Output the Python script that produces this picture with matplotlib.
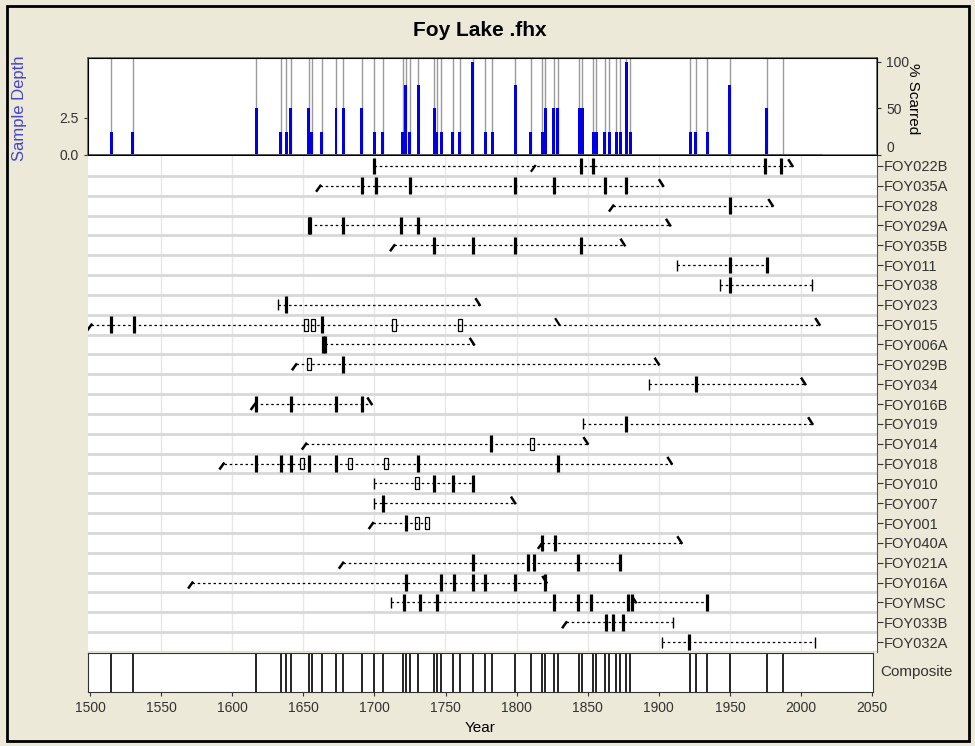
import matplotlib
matplotlib.use('Agg')
import matplotlib.pyplot as plt
from matplotlib.patches import Rectangle

plt.rcParams['font.family'] = ['Liberation Sans', 'DejaVu Sans']

# composite fire years and % of samples scarred
fire_years = [1515, 1530, 1617, 1634, 1638, 1641, 1654, 1656, 1663, 1673, 1678, 1691,
              1700, 1706, 1720, 1722, 1725, 1731, 1742, 1744, 1747, 1755, 1760, 1769,
              1778, 1783, 1799, 1810, 1818, 1820, 1826, 1829, 1844, 1846, 1854, 1856,
              1862, 1865, 1870, 1873, 1877, 1880, 1922, 1926, 1934, 1950, 1976, 1987]
pct_scarred = [25, 25, 50, 25, 25, 50, 50, 25, 25, 50, 50, 50,
               25, 25, 25, 75, 25, 75, 50, 25, 25, 25, 25, 100,
               25, 25, 75, 25, 25, 50, 50, 50, 50, 50, 25, 25,
               25, 25, 25, 25, 100, 25, 25, 25, 25, 75, 50, 0]

# tree-ring series
series = ['FOY022B', 'FOY035A', 'FOY028', 'FOY029A', 'FOY035B', 'FOY011', 'FOY038',
          'FOY023', 'FOY015', 'FOY006A', 'FOY029B', 'FOY034', 'FOY016B', 'FOY019',
          'FOY014', 'FOY018', 'FOY010', 'FOY007', 'FOY001', 'FOY040A', 'FOY021A',
          'FOY016A', 'FOYMSC', 'FOY033B', 'FOY032A']
first_year = [1700, 1662, 1868, 1654, 1714, 1913, 1943, 1632, 1501, 1665, 1645, 1893, 1616,
              1847, 1652, 1594, 1700, 1700, 1699, 1818, 1678, 1572, 1712, 1835, 1902]
last_year = [1994, 1903, 1980, 1908, 1876, 1976, 2008, 1774, 2013, 1770, 1900, 2003, 1698,
             2008, 1850, 1909, 1769, 1799, 1737, 1916, 1873, 1821, 1934, 1910, 2010]
# 'pith' = |, 'inner' = /, 'bark' = |, 'outer' = \, 'none'
first_kind = ['pith', 'inner', 'inner', 'pith', 'inner', 'pith', 'pith', 'pith', 'inner',
              'pith', 'inner', 'pith', 'inner', 'pith', 'inner', 'inner', 'pith', 'pith',
              'inner', 'inner', 'inner', 'inner', 'pith', 'inner', 'pith']
last_kind = ['outer', 'outer', 'outer', 'outer', 'outer', 'bark', 'bark', 'outer', 'outer',
             'outer', 'outer', 'outer', 'outer', 'outer', 'outer', 'outer', 'bark', 'outer',
             'none', 'outer', 'bark', 'outer', 'bark', 'bark', 'bark']
scar_years = [
    [1700, 1845, 1854, 1975, 1986],
    [1691, 1701, 1725, 1799, 1826, 1862, 1877],
    [1950],
    [1654, 1655, 1678, 1719, 1731],
    [1742, 1769, 1799, 1845],
    [1950, 1976],
    [1950],
    [1638],
    [1515, 1531, 1663],
    [1664, 1665],
    [1678],
    [1926],
    [1617, 1641, 1673, 1691],
    [1877],
    [1782],
    [1617, 1634, 1641, 1654, 1673, 1731, 1829],
    [1742, 1755, 1769],
    [1706],
    [1722],
    [1818, 1827],
    [1769, 1808, 1812, 1843, 1873],
    [1722, 1747, 1756, 1769, 1778, 1799, 1820],
    [1721, 1732, 1744, 1826, 1843, 1852, 1878, 1881, 1934],
    [1863, 1868, 1875],
    [1921],
]
injury_years = [
    [], [], [], [], [], [], [], [],
    [1652, 1657, 1714, 1760],
    [],
    [1654],
    [], [], [],
    [1811],
    [1649, 1683, 1708],
    [1730],
    [],
    [1730, 1737],
    [], [], [], [], [], [],
]
inner_marks = {0: [1813]}
outer_marks = {8: [1830], 22: [1884]}

W, H = 975, 746


def rect(l, t, r, b):
    return [l / W, 1 - b / H, (r - l) / W, (b - t) / H]


def xlim_for(l, r):
    # 1500 sits at x=90 px, 1.422 px per year
    return 1500 + (l - 90) / 1.422, 1500 + (r - 90) / 1.422


fig = plt.figure(figsize=(9.75, 7.46), dpi=100, facecolor='#ece9d8')
fig.patches.append(Rectangle((7 / W, 5 / H), 962 / W, 735 / H, transform=fig.transFigure,
                             fill=False, ec='black', lw=2))
fig.text(480 / W, 1 - 30 / H, 'Foy Lake .fhx', ha='center', va='center',
         fontsize=15, fontweight='bold')

tick_col = '#333333'

# ---- top panel: sample depth / % scarred
ax_top = fig.add_axes(rect(88, 58, 877, 155))
ax_top.set_facecolor('white')
ax_top.set_xlim(*xlim_for(88, 877))
ax_top.set_ylim(0, 6.55)
ax_top.set_yticks([0, 2.5])
ax_top.set_yticklabels(['0.0', '2.5'])
ax_top.set_xticks([])
ax_top.tick_params(axis='y', labelsize=10, colors=tick_col, length=3)
ax_top.set_ylabel('Sample Depth', color='#4545c8', fontsize=12, va='center')
ax_top.yaxis.set_label_coords(-0.087, 0.48)
for sp in ax_top.spines.values():
    sp.set_color('#666666')
    sp.set_linewidth(1.2)
ax_pct = ax_top.twinx()
ax_pct.set_ylim(0, 104.3)
ax_pct.set_yticks([0, 50, 100])
ax_pct.tick_params(axis='y', labelsize=10, colors=tick_col, length=3)
ax_pct.yaxis.get_major_ticks()[0].label2.set_va('bottom')
ax_pct.set_ylabel('% Scarred', rotation=270, fontsize=11, va='center')
ax_pct.yaxis.set_label_coords(1.046, 0.58)
ax_pct.vlines(fire_years, 0, 104.3, color='#9a9a9a', lw=1, zorder=1)
ax_pct.bar(fire_years, pct_scarred, width=2.1, color='#0000e0', zorder=3)
ax_pct.plot([1500, 2014], [0, 0], color='#555555', lw=2, zorder=4)

# ---- tree panel
ax = fig.add_axes(rect(88, 156, 877, 652))
ax.set_xlim(*xlim_for(88, 877))
ax.set_ylim(len(series) - 0.5, -0.5)
for yr in range(1550, 2050, 50):
    ax.axvline(yr, color='#e8e8e8', lw=1, zorder=0)
for i in range(len(series)):
    ax.axhline(i + 0.5, color='#d8d8d8', lw=2, zorder=0)
for sp in ['left', 'top', 'bottom']:
    ax.spines[sp].set_visible(False)
ax.spines['right'].set_color('#555555')
ax.set_xticks([])
ax.set_yticks(range(len(series)))
ax.set_yticklabels(series)
ax.tick_params(axis='y', left=False, right=True, labelleft=False, labelright=True,
               labelsize=10.5, colors=tick_col, length=4, pad=1)

for i in range(len(series)):
    s, e = first_year[i], last_year[i]
    ax.plot([s, e], [i, i], color='black', lw=0.9, ls=(0, (2, 2.2)))
    if first_kind[i] == 'pith':
        ax.vlines(s, i - 0.28, i + 0.28, color='black', lw=1)
    elif first_kind[i] == 'inner':
        ax.plot([s, s - 2.5], [i, i + 0.25], color='black', lw=1.8)
    if last_kind[i] == 'bark':
        ax.vlines(e, i - 0.28, i + 0.28, color='black', lw=1)
    elif last_kind[i] == 'outer':
        ax.plot([e - 2.5, e], [i - 0.28, i], color='black', lw=1.8)
    ax.vlines(scar_years[i], i - 0.42, i + 0.42, color='black', lw=2.3)
    for yr in injury_years[i]:
        ax.add_patch(Rectangle((yr - 1.3, i - 0.3), 2.6, 0.6, fill=False, ec='black', lw=0.9))
    for yr in inner_marks.get(i, []):
        ax.plot([yr, yr - 2.5], [i, i + 0.25], color='black', lw=1.6)
    for yr in outer_marks.get(i, []):
        ax.plot([yr - 2.5, yr], [i - 0.28, i], color='black', lw=1.6)

# ---- composite panel
ax_c = fig.add_axes(rect(88, 653, 873, 692))
ax_c.set_facecolor('white')
ax_c.set_xlim(*xlim_for(88, 873))
ax_c.set_ylim(0, 1)
ax_c.vlines(fire_years, 0, 1, color='black', lw=1.2)
ax_c.set_yticks([])
ax_c.set_xticks(range(1500, 2051, 50))
ax_c.tick_params(axis='x', labelsize=10, colors=tick_col, length=3)
ax_c.set_xlabel('Year', fontsize=11, labelpad=4)
for sp in ax_c.spines.values():
    sp.set_color('#333333')
fig.text(880 / W, 1 - 672 / H, 'Composite', ha='left', va='center', fontsize=11,
         color=tick_col)

fig.savefig('out.png', dpi=100, facecolor=fig.get_facecolor())
